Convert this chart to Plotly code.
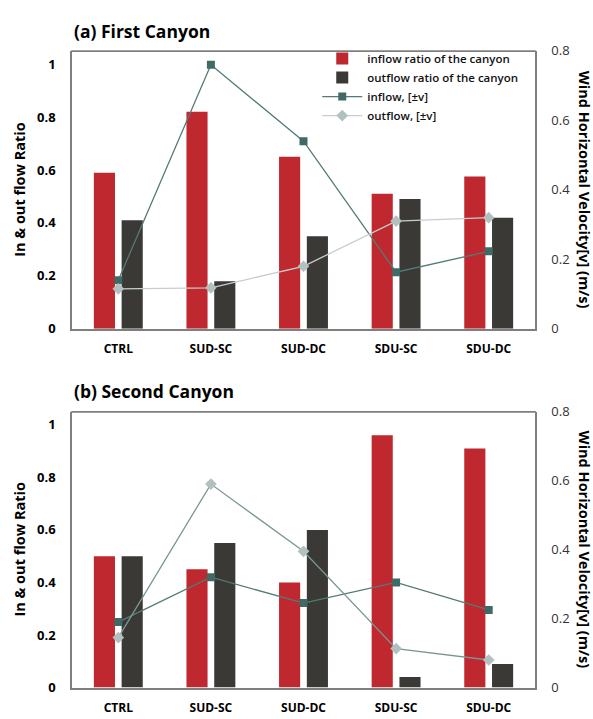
import plotly.graph_objects as go
from plotly.subplots import make_subplots

categories = ["CTRL", "SUD-SC", "SUD-DC", "SDU-SC", "SDU-DC"]

# (a) First Canyon
a_inflow_ratio = [0.59, 0.82, 0.65, 0.51, 0.575]
a_outflow_ratio = [0.41, 0.18, 0.35, 0.49, 0.42]
a_inflow_vel = [0.14, 0.76, 0.54, 0.163, 0.223]
a_outflow_vel = [0.115, 0.118, 0.18, 0.31, 0.32]

# (b) Second Canyon
b_inflow_ratio = [0.50, 0.45, 0.40, 0.96, 0.91]
b_outflow_ratio = [0.50, 0.55, 0.60, 0.04, 0.09]
b_inflow_vel = [0.19, 0.32, 0.245, 0.305, 0.225]
b_outflow_vel = [0.145, 0.59, 0.395, 0.113, 0.08]

left_ticks = [0, 0.2, 0.4, 0.6, 0.8, 1]
right_ticks = [0, 0.2, 0.4, 0.6, 0.8]

RED = "#BE282E"
DARK = "#3A3935"
TEAL = "#557A76"
TEAL_M = "#3F6A65"
GRAY_L = "#C6CFCE"
GRAY_M = "#B3C0C0"
FONT = "Open Sans"
AXC = "#7F7F7F"

fig = make_subplots(rows=2, cols=1, specs=[[{"secondary_y": True}], [{"secondary_y": True}]])

panels = [
    (1, a_inflow_ratio, a_outflow_ratio, a_inflow_vel, a_outflow_vel, GRAY_L),
    (2, b_inflow_ratio, b_outflow_ratio, b_inflow_vel, b_outflow_vel, "#7A9794"),
]
for row, ir, orr, iv, ov, out_line in panels:
    show = row == 1
    fig.add_trace(go.Bar(x=categories, y=ir, name="inflow ratio of the canyon",
                         marker=dict(color=RED, line=dict(width=0)), showlegend=show),
                  row=row, col=1, secondary_y=False)
    fig.add_trace(go.Bar(x=categories, y=orr, name="outflow ratio of the canyon",
                         marker=dict(color=DARK, line=dict(width=0)), showlegend=show),
                  row=row, col=1, secondary_y=False)
    fig.add_trace(go.Scatter(x=categories, y=iv, name="inflow, [±v]", mode="lines+markers",
                             line=dict(color=TEAL, width=1.3),
                             marker=dict(symbol="square", size=8, color=TEAL_M),
                             showlegend=show),
                  row=row, col=1, secondary_y=True)
    fig.add_trace(go.Scatter(x=categories, y=ov, name="outflow, [±v]", mode="lines+markers",
                             line=dict(color=out_line, width=1.3),
                             marker=dict(symbol="diamond", size=9, color=GRAY_M),
                             showlegend=show),
                  row=row, col=1, secondary_y=True)

W, H = 593, 719
x0, x1 = 72 / W, 535 / W
doms = [(1 - 328 / H, 1 - 43 / H), (1 - 696 / H, 1 - 413 / H)]

layout = dict(
    width=W, height=H, margin=dict(l=0, r=0, t=0, b=0),
    paper_bgcolor="white", plot_bgcolor="white",
    barmode="group", bargap=0.4, bargroupgap=0.24,
    font=dict(family=FONT, color="black"),
    legend=dict(x=0.535, y=1 - 36 / H, xanchor="left", yanchor="top",
                bgcolor="rgba(0,0,0,0)",
                font=dict(size=11.5, family=FONT, color="#111", weight=600),
                tracegroupgap=0, itemwidth=40),
)
fig.update_layout(**layout)

xnames = ["xaxis", "xaxis2"]
ynames = [("yaxis", "yaxis2"), ("yaxis3", "yaxis4")]
for i in range(2):
    fig.layout[xnames[i]].update(domain=[x0, x1], ticks="", ticklabelstandoff=8,
                                 tickfont=dict(size=12, family=FONT, weight="bold"),
                                 showline=True, linecolor=AXC, linewidth=1.5,
                                 showgrid=False, zeroline=False)
    yl, yr = ynames[i]
    fig.layout[yl].update(domain=list(doms[i]), range=[0, 1.05], tickvals=left_ticks,
                          ticktext=[f"{v:g}" for v in left_ticks], ticks="",
                          ticklabelstandoff=12,
                          tickfont=dict(size=13, family=FONT, weight="bold"),
                          showline=True, linecolor=AXC, linewidth=1.5,
                          showgrid=False, zeroline=False)
    fig.layout[yr].update(range=[0, 0.8], tickvals=right_ticks,
                          ticktext=[f"{v:g}" for v in right_ticks], ticks="",
                          ticklabelstandoff=12,
                          tickfont=dict(size=13, family=FONT, color="#333"),
                          showline=True, linecolor=AXC, linewidth=1.5, showgrid=False,
                          zeroline=False)

annotations = []
for title, ytop in [("(a) First Canyon", 23), ("(b) Second Canyon", 392)]:
    annotations.append(dict(text=title, x=x0, y=1 - ytop / H, xref="paper", yref="paper",
                            xanchor="left", yanchor="middle", showarrow=False,
                            font=dict(size=17.5, family=FONT, weight="bold", color="black")))
for (yb, yt) in doms:
    mid = (yb + yt) / 2
    annotations.append(dict(text="In & out flow Ratio", x=20 / W, y=mid, xref="paper", yref="paper",
                            xanchor="center", yanchor="middle", textangle=-90, showarrow=False,
                            font=dict(size=14.5, family=FONT, weight="bold", color="black")))
    annotations.append(dict(text="Wind Horizontal Velocity[v] (m/s)", x=584 / W, y=mid,
                            xref="paper", yref="paper", xanchor="center", yanchor="middle",
                            textangle=90, showarrow=False,
                            font=dict(size=14.5, family=FONT, weight="bold", color="black")))
fig.update_layout(annotations=annotations)

# top edge of each panel frame
px = 1 / H
for (yb, yt) in doms:
    fig.add_shape(type="rect", xref="paper", yref="paper", x0=x0 - 0.75 / W, x1=x1 + 0.75 / W,
                  y0=yt - 1.0 * px, y1=yt + 0.6 * px,
                  line=dict(width=0), fillcolor=AXC, layer="above")

fig.write_html("out.html")
